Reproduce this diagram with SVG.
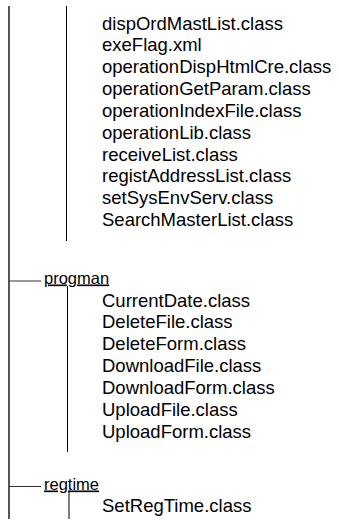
<svg xmlns="http://www.w3.org/2000/svg" width="339" height="524" viewBox="0 0 339 524">
<style>
.t{font-family:"Liberation Sans",Arial,sans-serif;font-size:18.5px;fill:#000}
.d{font-family:"Liberation Sans",Arial,sans-serif;font-size:16.5px;fill:#000;text-decoration:underline}
.outer{stroke:#555;stroke-width:2;fill:none}
.branch{stroke:#333;stroke-width:1;fill:none}
.inner{stroke:#000;stroke-width:1;fill:none}
</style>
<rect width="339" height="524" fill="#fff"/>
<g id="connectors">
<line class="outer" x1="9" y1="6" x2="9" y2="519"/>
<line class="inner" x1="66.5" y1="6" x2="66.5" y2="241"/>
<line class="branch" x1="9" y1="281" x2="41" y2="281"/>
<line class="inner" x1="67.5" y1="286" x2="67.5" y2="452"/>
<line class="branch" x1="9" y1="486.5" x2="41" y2="486.5"/>
<line class="inner" x1="69" y1="492" x2="69" y2="519"/>
</g>
<g id="files1">
<text class="t" x="102" y="29.5">dispOrdMastList.class</text>
<text class="t" x="102" y="51.35">exeFlag.xml</text>
<text class="t" x="102" y="73.2">operationDispHtmlCre.class</text>
<text class="t" x="102" y="95.05">operationGetParam.class</text>
<text class="t" x="102" y="116.9">operationIndexFile.class</text>
<text class="t" x="102" y="138.75">operationLib.class</text>
<text class="t" x="102" y="160.6">receiveList.class</text>
<text class="t" x="102" y="182.45">registAddressList.class</text>
<text class="t" x="102" y="204.3">setSysEnvServ.class</text>
<text class="t" x="102" y="226.15">SearchMasterList.class</text>
</g>
<g id="progman">
<text class="d" x="44" y="283.5">progman</text>
<text class="t" x="102" y="306.5">CurrentDate.class</text>
<text class="t" x="102" y="328.35">DeleteFile.class</text>
<text class="t" x="102" y="350.2">DeleteForm.class</text>
<text class="t" x="102" y="372.05">DownloadFile.class</text>
<text class="t" x="102" y="393.9">DownloadForm.class</text>
<text class="t" x="102" y="415.75">UploadFile.class</text>
<text class="t" x="102" y="437.6">UploadForm.class</text>
</g>
<g id="regtime">
<text class="d" x="44" y="489.5">regtime</text>
<text class="t" x="102" y="511.5">SetRegTime.class</text>
</g>
</svg>
